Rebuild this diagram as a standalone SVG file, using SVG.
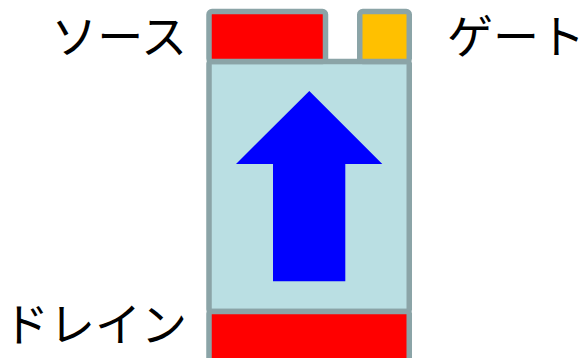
<svg xmlns="http://www.w3.org/2000/svg" width="585" height="358" viewBox="0 0 585 358">
<style>
.b{stroke:#8BA4A7;stroke-width:5.5;stroke-linejoin:round}
.t{font-family:"Noto Sans CJK JP","Noto Sans CJK SC",sans-serif;font-size:46px;fill:#000}
</style>
<rect width="585" height="358" fill="#fff"/>
<g id="body"><rect class="b" x="209" y="61.5" width="200.25" height="250" rx="2" fill="#BADFE3"/></g>
<g id="source"><rect class="b" x="209" y="11.5" width="116.5" height="50" rx="3" fill="#FF0000"/></g>
<g id="gate"><rect class="b" x="359.75" y="11.5" width="49.5" height="50" rx="3" fill="#FFC000"/></g>
<g id="drain"><rect class="b" x="209" y="311.5" width="200.25" height="60" rx="2" fill="#FF0000"/></g>
<g id="connectors"><polygon points="309.3,91 382.3,164 345.3,164 345.3,281.3 273,281.3 273,164 236,164" fill="#0000FF"/></g>
<g id="labels">
<text class="t" x="187" y="53" text-anchor="end">ソース</text>
<text class="t" x="447" y="53">ゲート</text>
<text class="t" x="187" y="341" text-anchor="end">ドレイン</text>
</g>
</svg>
